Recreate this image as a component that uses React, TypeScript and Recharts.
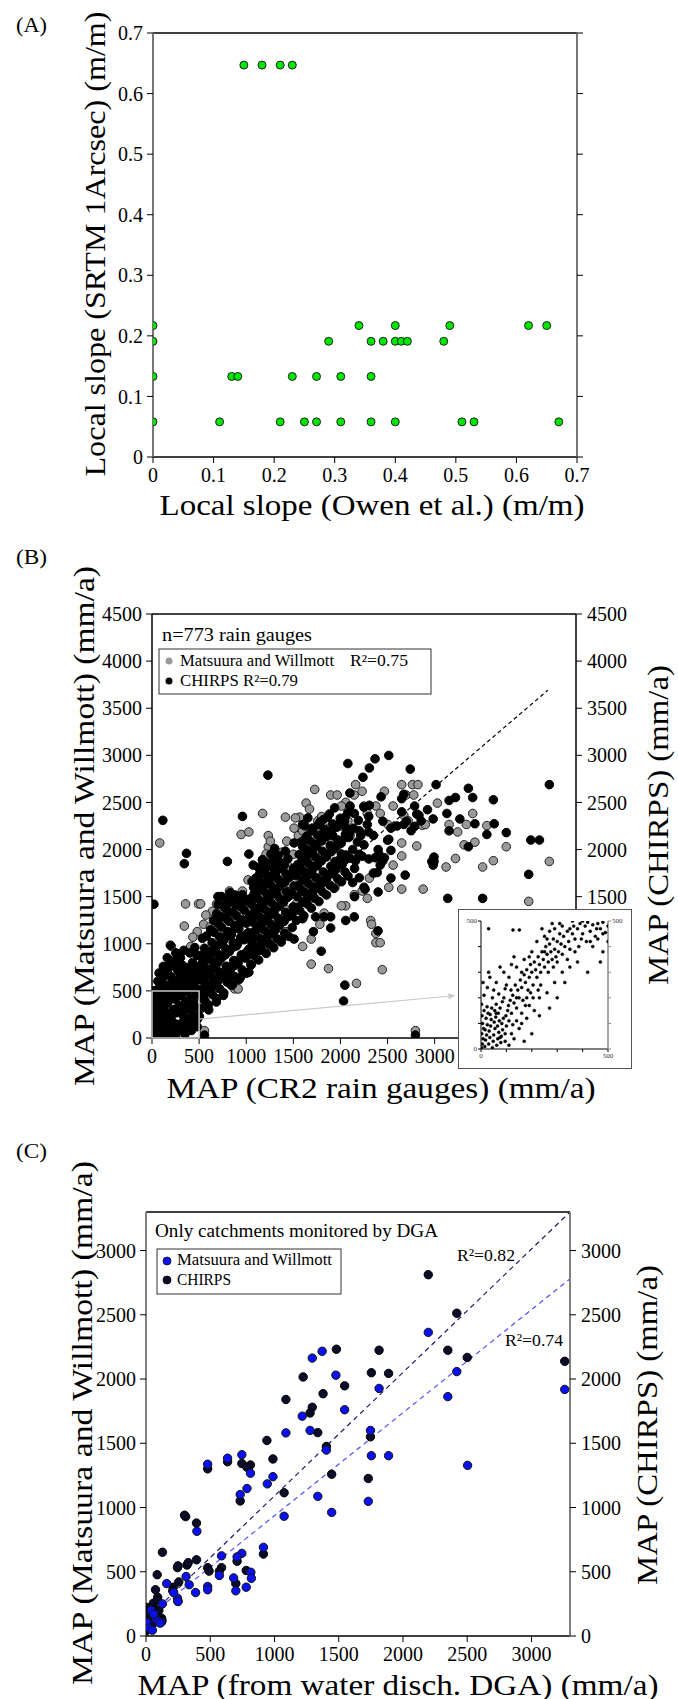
import React from 'react';
import { ScatterChart, Scatter, XAxis, YAxis, ReferenceLine, ReferenceArea, Customized } from 'recharts';

const FONT = "'Liberation Serif', 'DejaVu Serif', 'Times New Roman', serif";

// ---------------- Panel A ----------------
const slopeTicks = [0, 0.1, 0.2, 0.3, 0.4, 0.5, 0.6, 0.7];
const slopePoints: [number, number][] = [
  [0.15, 0.647], [0.18, 0.647], [0.21, 0.647], [0.23, 0.647],
  [0, 0.217], [0.34, 0.217], [0.40, 0.217], [0.49, 0.217], [0.62, 0.217], [0.65, 0.217],
  [0, 0.191], [0.29, 0.191], [0.36, 0.191], [0.38, 0.191], [0.40, 0.191], [0.41, 0.191], [0.42, 0.191], [0.48, 0.191],
  [0, 0.133], [0.13, 0.133], [0.14, 0.133], [0.23, 0.133], [0.27, 0.133], [0.31, 0.133], [0.36, 0.133],
  [0, 0.058], [0.11, 0.058], [0.21, 0.058], [0.25, 0.058], [0.27, 0.058], [0.31, 0.058], [0.36, 0.058], [0.40, 0.058], [0.51, 0.058], [0.53, 0.058], [0.67, 0.058],
];

// ---------------- Panel B ----------------
const mapTicksB = [0, 500, 1000, 1500, 2000, 2500, 3000, 3500, 4000, 4500];
const matsuuraB: [number, number][] = [
  [82, 2070], [1727, 2638], [4217, 1874], [3998, 1450], [3760, 2030], [3623, 1882], [3509, 1815], [3221, 1905],
  [3121, 1815], [3313, 2050], [3427, 2078], [3554, 2254], [3404, 2383], [3336, 2266], [3153, 2266], [3244, 2187],
  [3029, 2493], [2764, 2689], [2650, 2689], [2823, 2689], [2467, 2619], [2161, 2689], [2056, 2501], [1896, 2579],
  [1636, 2493], [1567, 2344], [1508, 2227], [1174, 2383], [946, 2160], [1234, 2148], [1430, 2089], [1690, 784],
  [2170, 580], [2321, 1247], [2376, 1011], [2444, 725], [2878, 1580], [2650, 1580], [2650, 1932], [2869, 2258],
  [2810, 2038], [2307, 1697], [2056, 1403], [356, 1423], [493, 1423], [516, 1423], [343, 1188], [402, 933],
  [877, 521], [1019, 1678], [1827, 1325], [2796, 78], [557, 78],
  [1028, 2187], [1234, 2030], [1257, 2089], [1211, 1952], [1325, 1913], [1380, 1972], [1416, 2344], [1522, 2336],
  [1553, 2148], [1622, 2101], [1672, 2430], [1759, 2305], [1873, 2227], [1965, 2579], [2010, 2462], [2079, 2305],
  [2102, 2148], [2147, 2579], [2230, 2619], [2248, 2462], [2285, 2383], [2376, 2462], [2422, 2383], [2504, 2266],
  [2559, 2462], [2673, 2364], [2696, 2579], [2719, 2305], [2778, 2579], [2901, 2266], [2650, 2070], [2559, 1835],
  [2513, 1599], [2285, 1482], [2230, 1560], [2147, 1521], [2010, 1403], [2330, 1207], [2376, 1109], [2422, 1011],
  [1873, 737], [1782, 1207], [1690, 1050], [1599, 972], [1416, 1129], [1279, 1050], [1234, 1129], [1142, 1168],
  [1051, 1247], [1005, 1325], [960, 1403], [868, 1442], [960, 1560], [822, 1560], [731, 1482], [685, 1423],
  [640, 1345], [571, 1305], [548, 1207], [480, 1129], [434, 1070], [411, 972], [274, 894], [206, 972],
  [196, 815], [146, 717], [91, 580], [9, 502], [23, 345], [914, 521], [1142, 1364], [1188, 1619],
  [1257, 1541], [1348, 1580], [1462, 1639], [1553, 1737], [1645, 1795], [1736, 1599], [1818, 1737], [1919, 1756],
  [1942, 1599], [1654, 1521], [1531, 1423], [1416, 1364], [700, 1100], [850, 1250], [1100, 1500], [1300, 1750],
  [1500, 1950], [1700, 2000], [1900, 2100], [2000, 2250], [1800, 2350], [1600, 2200], [100, 150], [250, 300], [400, 450],
  [1590, 1880], [1760, 1960], [1960, 2010], [1210, 1720], [1080, 1640], [1450, 1820], [780, 1290], [620, 1180],
];
const chirpsB: [number, number][] = [
  // scattered points
  [115, 2310], [366, 1960], [343, 1850], [20, 1420], [960, 2352], [1230, 2790], [1028, 1952], [1174, 1890],
  [800, 1874], [700, 1501], [535, 1058], [2079, 2913], [2307, 2866], [2367, 2963], [2513, 2999], [2741, 2854],
  [2239, 2767], [3015, 2689], [4217, 2689], [3358, 2650], [3221, 2552], [3404, 2552], [3623, 2528], [2673, 2587],
  [2431, 2560], [2307, 2470], [2810, 2376], [3130, 2383], [3267, 2325], [3427, 2274], [3632, 2274], [3554, 2160],
  [3760, 2180], [3153, 2199], [3358, 2030], [2993, 1920], [2993, 1874], [3998, 1737], [4020, 2101], [4112, 2101],
  [3139, 1482], [3509, 1482], [2047, 561], [2033, 392], [2796, 31], [557, 31], [2924, 2423], [2513, 2109],
  [2536, 1991], [2536, 1697], [2390, 1756], [2687, 1729], [2399, 1137], [2262, 1580], [1796, 921], [2147, 1286],
  [2056, 1247], [1896, 1286], [1736, 1286], [2102, 2462], [2147, 2383], [2138, 2227], [2216, 2148], [2285, 2266],
  [2298, 2187], [2367, 1913], [2408, 1952], [2467, 1913], [2422, 1835], [2536, 2227], [2787, 2462], [2673, 2266],
  [2650, 2540], [2833, 2364], [2856, 2305], [2787, 2246], [2970, 1874], [2984, 1835], [2984, 2325], [3153, 2521],
  [1942, 1874], [2010, 1952], [1919, 2148], [1805, 2168], [1782, 2266], [1654, 2336], [1704, 2207], [1599, 2266],
  [1622, 2109], [1508, 2070], [1416, 1984], [1325, 1874], [1302, 2011], [1371, 1835], [1142, 1737], [1074, 1835],
  [1165, 1599], [960, 1521], [868, 1482], [777, 1403], [1827, 1286], [1599, 1266], [1896, 1168], [1713, 1129],
  [1508, 1050], [1416, 1090], [1234, 1011], [1142, 933], [1051, 776], [1028, 698], [891, 815], [822, 658],
  [640, 580], [548, 404], [503, 227], [195, 985], [45, 470], [10, 300], [5, 160], [0, 80],
  // dense mass near origin
  [10, 20], [30, 60], [62, 18], [88, 72], [121, 33], [148, 92], [183, 41], [207, 114], [244, 58], [268, 143],
  [303, 79], [328, 172], [362, 118], [391, 203], [418, 149], [452, 238], [477, 193],
  [22, 118], [48, 172], [83, 137], [108, 213], [142, 176], [168, 262], [203, 228], [229, 303], [262, 268],
  [288, 342], [321, 307], [352, 383], [378, 348], [412, 423], [438, 392], [471, 462],
  [14, 233], [42, 287], [68, 262], [103, 328], [127, 302], [162, 368], [188, 404], [223, 437], [248, 412],
  [283, 478], [308, 452], [342, 517], [372, 498], [398, 563], [432, 527], [463, 602],
  [28, 383], [61, 418], [92, 468], [118, 443], [152, 508], [178, 563], [212, 527], [238, 603], [272, 568],
  [298, 643], [332, 607], [358, 683], [392, 648], [421, 722], [448, 688], [492, 758],
  [102, 588], [71, 523], [128, 652], [163, 718], [192, 783], [232, 818], [258, 742], [318, 776],
  [58, 332], [93, 388], [151, 447], [211, 482], [263, 538], [321, 561], [351, 602], [409, 641], [441, 563],
  [482, 652], [31, 502], [62, 603], [133, 562], [201, 652], [281, 703], [362, 748], [431, 802], [478, 878],
  [402, 902], [302, 852], [162, 852], [252, 903], [338, 930], [455, 960], [120, 760], [75, 690],
  [140, 10], [250, 20], [350, 40], [420, 80], [480, 120], [220, 170], [330, 240], [400, 300], [470, 330],
  // band 500-1000
  [518, 312], [563, 398], [598, 352], [641, 462], [683, 418], [718, 523], [762, 478], [798, 592], [842, 558],
  [878, 652], [922, 618], [958, 722], [1003, 688],
  [532, 428], [574, 483], [617, 512], [658, 563], [702, 608], [743, 642], [787, 688], [828, 733], [872, 768],
  [913, 812], [957, 858], [993, 903],
  [512, 518], [548, 603], [592, 558], [628, 652], [672, 617], [708, 703], [752, 668], [788, 762], [833, 728],
  [868, 823], [912, 788], [948, 882], [992, 848], [1028, 943],
  [527, 622], [568, 668], [612, 712], [653, 753], [697, 798], [733, 843], [778, 882], [822, 922], [858, 963],
  [907, 998], [943, 1052], [987, 1088],
  [502, 698], [543, 783], [578, 738], [622, 832], [658, 803], [703, 888], [738, 862], [782, 948], [818, 918],
  [862, 1012], [898, 978], [942, 1068], [978, 1043], [1022, 1118],
  [538, 822], [587, 858], [628, 912], [672, 948], [713, 993], [757, 1032], [798, 1083], [843, 1118], [883, 1167],
  [927, 1208], [963, 1247],
  [522, 878], [558, 953], [602, 918], [638, 1012], [683, 978], [718, 1072], [762, 1038], [798, 1132], [843, 1098],
  [878, 1192], [922, 1158], [958, 1252], [1003, 1218], [1038, 1302],
  [578, 1082], [622, 1148], [658, 1122], [703, 1212], [738, 1178], [782, 1272], [818, 1238], [862, 1332],
  [898, 1298], [942, 1392], [978, 1358], [1022, 1452],
  [652, 1248], [688, 1322], [732, 1288], [768, 1382], [812, 1348], [848, 1442], [892, 1408], [928, 1482], [972, 1458],
  [702, 1418], [738, 1502], [792, 1468], [828, 1542], [882, 1518],
  [602, 298], [683, 382], [758, 452], [852, 562], [938, 642],
  // band 1000-1500
  [1052, 778], [1088, 872], [1132, 828], [1168, 932], [1212, 898], [1248, 992], [1292, 958], [1328, 1052],
  [1372, 1018], [1408, 1112], [1452, 1078], [1488, 1172],
  [1042, 883], [1087, 922], [1128, 972], [1177, 1013], [1218, 1062], [1263, 1108], [1312, 1147], [1353, 1198],
  [1402, 1238], [1443, 1287], [1492, 1328],
  [1062, 1008], [1098, 1092], [1142, 1058], [1178, 1152], [1222, 1118], [1258, 1212], [1302, 1178], [1338, 1272],
  [1382, 1238], [1418, 1332], [1462, 1298], [1498, 1392],
  [1033, 1087], [1082, 1128], [1127, 1177], [1168, 1222], [1217, 1263], [1262, 1312], [1303, 1357], [1352, 1398],
  [1397, 1443], [1438, 1492], [1487, 1533],
  [1072, 1228], [1108, 1312], [1152, 1278], [1188, 1372], [1232, 1338], [1268, 1432], [1312, 1398], [1348, 1492],
  [1392, 1458], [1428, 1552], [1472, 1518], [1508, 1612],
  [1047, 1293], [1088, 1342], [1137, 1383], [1178, 1432], [1227, 1473], [1268, 1522], [1317, 1563], [1358, 1612],
  [1407, 1653], [1448, 1702], [1497, 1743],
  [1058, 1418], [1102, 1502], [1138, 1468], [1182, 1562], [1218, 1528], [1262, 1622], [1298, 1588], [1342, 1682],
  [1378, 1648], [1422, 1742], [1458, 1708], [1502, 1802],
  [1042, 1478], [1083, 1527], [1132, 1568], [1173, 1617], [1222, 1658], [1263, 1707], [1312, 1748], [1353, 1797],
  [1402, 1838],
  [1078, 1598], [1122, 1682], [1158, 1648], [1202, 1742], [1238, 1708], [1282, 1802], [1318, 1768], [1362, 1862],
  [1398, 1828], [1442, 1902], [1128, 1812], [1172, 1892], [1218, 1858], [1262, 1952],
  [1062, 1662], [1102, 1698], [1148, 1752], [1192, 1788], [1242, 1842], [1288, 1892], [1338, 1938],
  // band 1500-2100
  [1532, 1248], [1568, 1352], [1612, 1298], [1648, 1422], [1692, 1378], [1728, 1482], [1772, 1448], [1808, 1552],
  [1852, 1518], [1888, 1622], [1932, 1588], [1968, 1692], [2012, 1658], [2048, 1762],
  [1552, 1388], [1602, 1443], [1648, 1487], [1703, 1538], [1748, 1592], [1802, 1638], [1853, 1692], [1898, 1742],
  [1952, 1788], [2003, 1843], [2048, 1888],
  [1542, 1502], [1578, 1582], [1622, 1548], [1658, 1642], [1702, 1608], [1738, 1702], [1782, 1668], [1818, 1762],
  [1862, 1728], [1898, 1822], [1942, 1788], [1978, 1882], [2022, 1848], [2058, 1942], [2102, 1908],
  [1553, 1622], [1602, 1677], [1652, 1728], [1698, 1772], [1753, 1827], [1798, 1878], [1852, 1922], [1903, 1977],
  [1948, 2028], [2002, 2072], [2053, 2128], [2098, 2177],
  [1528, 1722], [1572, 1802], [1608, 1768], [1652, 1862], [1688, 1828], [1732, 1922], [1768, 1888], [1812, 1982],
  [1848, 1948], [1892, 2042], [1928, 2008], [1972, 2102], [2008, 2068], [2052, 2162], [2088, 2128],
  [1548, 1842], [1603, 1888], [1653, 1943], [1702, 1992], [1748, 2038], [1803, 2092], [1852, 2138], [1898, 2193],
  [1953, 2242], [2002, 2288], [2048, 2343],
  [1562, 1948], [1598, 2032], [1642, 1998], [1678, 2092], [1722, 2058], [1758, 2152], [1802, 2118], [1838, 2212],
  [1882, 2178], [1918, 2272], [1962, 2238], [1998, 2332], [2042, 2298], [2078, 2392],
  [1582, 2078], [1642, 2143], [1698, 2198], [1763, 2262], [1818, 2318], [1883, 2378], [1938, 2442],
  [1622, 2252], [1702, 2228], [1782, 2292], [1862, 2342],
  [2150, 1800], [2200, 1950], [2250, 2050], [2300, 1900], [2350, 2150], [2200, 2200], [2300, 2350], [2400, 2000],
  [2450, 1880], [2500, 2100], [2600, 2250], [2650, 2400], [2700, 2300], [2750, 2200], [2200, 1700], [2150, 1500],
  [2250, 1600], [2350, 1750], [2400, 1550], [2100, 2600], [2250, 2450], [2450, 2300],
  [2130, 2000], [2180, 2080], [2160, 1880], [2230, 1930], [2080, 1720], [2130, 1650], [2060, 2230], [2190, 2310],
];
const insetTicks = [0, 100, 200, 300, 400, 500];
const insetPoints: [number, number][] = [
  [2, 5], [5, 20], [8, 40], [3, 60], [10, 80], [6, 100], [4, 130], [12, 150], [2, 175], [15, 10], [18, 35], [22, 55],
  [16, 75], [25, 95], [20, 120], [28, 140], [24, 165], [30, 20], [35, 45], [32, 70], [38, 90], [40, 115], [36, 135],
  [42, 160], [45, 5], [48, 30], [50, 55], [55, 80], [52, 105], [58, 125], [54, 150], [60, 175], [62, 15], [66, 40],
  [70, 65], [65, 90], [72, 110], [68, 140], [75, 160], [78, 25], [80, 50], [85, 75], [82, 100], [88, 120], [84, 185],
  [90, 200], [95, 60], [100, 90], [98, 130], [105, 150], [110, 110], [108, 170], [115, 190], [120, 140], [125, 210],
  [118, 230], [130, 180], [135, 250], [140, 160], [145, 230], [150, 200], [155, 270], [160, 240], [165, 190],
  [170, 290], [175, 260], [180, 310], [185, 230], [190, 280], [195, 330], [200, 300], [205, 250], [210, 340],
  [215, 310], [220, 280], [225, 360], [230, 330], [235, 300], [240, 380], [245, 350], [250, 320], [255, 400],
  [260, 370], [265, 340], [270, 410], [275, 380], [280, 350], [285, 430], [290, 390], [295, 360], [300, 420],
  [305, 380], [310, 450], [315, 410], [320, 370], [325, 440], [330, 400], [340, 460], [345, 420], [350, 390],
  [360, 450], [365, 480], [370, 430], [380, 470], [385, 400], [390, 490], [400, 450], [410, 480], [415, 420],
  [420, 495], [430, 460], [440, 485], [450, 440], [460, 490], [470, 470], [480, 495], [490, 455], [500, 480],
  [30, 470], [126, 465], [151, 465], [30, 300], [60, 260], [90, 300], [50, 230], [140, 320], [100, 250], [120, 330],
  [170, 350], [200, 380], [180, 200], [230, 200], [260, 220], [210, 150], [290, 260], [320, 300], [330, 260],
  [350, 320], [380, 340], [440, 400], [470, 340], [420, 300], [300, 200], [270, 160], [230, 130], [200, 60],
  [150, 80], [130, 40], [180, 120], [250, 380], [310, 490], [270, 460], [240, 470], [360, 500], [400, 500], [280, 490],
  [12, 210], [8, 260], [25, 240], [45, 200], [70, 215], [95, 235], [35, 280], [75, 320], [110, 280], [160, 300],
  [130, 360], [190, 360], [220, 420], [260, 430], [300, 340], [340, 350], [370, 380], [395, 430], [430, 420],
  [460, 430], [480, 450], [500, 420], [480, 380], [455, 470], [350, 470], [320, 480], [290, 470], [250, 440],
  [140, 110], [160, 140], [190, 170], [120, 60], [95, 30], [110, 15], [170, 30], [60, 140], [75, 45], [140, 200],
  [195, 220], [235, 250], [265, 300], [285, 320], [225, 230], [175, 170], [205, 200], [160, 100], [125, 95],
];
const fitLineB = [{ x: 0, y: 100 }, { x: 4200, y: 3690 }];
const zoomArrowB = [{ x: 500, y: 200 }, { x: 3220, y: 450 }];

// ---------------- Panel C ----------------
const mapTicksC = [0, 500, 1000, 1500, 2000, 2500, 3000];
const matsuuraC: [number, number][] = [
  [3259, 1919], [2503, 1328], [2349, 1863], [2419, 2058], [2197, 2363], [1888, 1403], [1814, 1927], [1754, 1403],
  [1747, 1600], [1730, 1048], [1546, 1761], [1478, 2030], [1445, 962], [1404, 1447], [1337, 1087], [1371, 2216],
  [1294, 2163], [1277, 1600], [1216, 1711], [1089, 1581], [1075, 932], [988, 1240], [944, 1184], [813, 1267],
  [786, 1148], [733, 1101], [746, 1411], [635, 1384], [480, 1337], [396, 815], [914, 690], [816, 496], [746, 643],
  [709, 616], [820, 449], [780, 380], [682, 452], [699, 352], [588, 624], [571, 471], [480, 385], [480, 360],
  [336, 399], [386, 338], [312, 463], [245, 294], [249, 269], [161, 408], [128, 250], [121, 108], [215, 338],
  [40, 200], [7, 103], [74, 130], [24, 61], [91, 117], [60, 170], [110, 100], [50, 45],
];
const chirpsC: [number, number][] = [
  [2197, 2812], [2419, 2512], [2349, 2224], [2500, 2168], [3259, 2138], [1482, 2232], [1814, 2224], [1754, 2049],
  [1888, 2044], [1223, 2016], [1546, 1947], [1378, 1886], [1089, 1841], [1294, 1780], [1277, 1736], [1337, 1583],
  [941, 1522], [1404, 1475], [1747, 1550], [988, 1378], [635, 1356], [746, 1342], [813, 1331], [786, 1314],
  [480, 1301], [1445, 1259], [1730, 1226], [1075, 1115], [733, 1051], [309, 929], [300, 940], [393, 879],
  [914, 638], [128, 652], [87, 477], [393, 593], [319, 552], [329, 571], [245, 532], [249, 546], [480, 532],
  [491, 505], [588, 532], [571, 505], [709, 582], [699, 408], [780, 510], [255, 421], [212, 380], [208, 352],
  [249, 269], [74, 360], [91, 302], [57, 255], [7, 222], [24, 186], [121, 139], [74, 205], [40, 89], [0, 39],
  [24, 111], [10, 170], [30, 215], [90, 280], [60, 100], [15, 60], [45, 140], [100, 200], [125, 120],
];
const fitChirpsC = [{ x: 0, y: 130 }, { x: 3300, y: 3300 }];
const fitMatsuuraC = [{ x: 0, y: 135 }, { x: 3300, y: 2780 }];

const toXY = (arr: [number, number][]) => arr.map(([x, y]) => ({ x, y }));

const dot = (r: number, fill: string, stroke: string, sw = 1) => (p: any) =>
  p.cx == null ? <g /> : <circle cx={p.cx} cy={p.cy} r={r} fill={fill} stroke={stroke} strokeWidth={sw} />;

// arrow drawn from the reference line's own endpoints
const arrowShape = (p: any) => {
  const { x1, y1, x2, y2 } = p;
  if ([x1, y1, x2, y2].some((v: any) => v == null || Number.isNaN(v))) return <g />;
  const ang = Math.atan2(y2 - y1, x2 - x1);
  const L = 7, W = 3;
  const bx = x2 - L * Math.cos(ang), by = y2 - L * Math.sin(ang);
  const px = -Math.sin(ang) * W, py = Math.cos(ang) * W;
  return (
    <g>
      <line x1={x1} y1={y1} x2={bx} y2={by} stroke="#c8c8c8" strokeWidth={1.2} />
      <polygon points={`${x2},${y2} ${bx + px},${by + py} ${bx - px},${by - py}`} fill="#c8c8c8" />
    </g>
  );
};

const tickStyle = { fontFamily: FONT, fontSize: 20, fill: '#000' };
const blank = () => '';
const bottomTickB = (v: number) => (v >= 3500 ? '' : String(v));
const rightTickB = (v: number) => (v <= 1000 ? '' : String(v));

type TProps = { x: number; y: number; size: number; len?: number; rot?: boolean; anchor?: 'start' | 'middle' | 'end'; children: React.ReactNode; fill?: string };
const T = ({ x, y, size, len, rot, anchor = 'middle', children, fill = '#000' }: TProps) => (
  <text
    x={x}
    y={y}
    fontSize={size}
    fontFamily={FONT}
    style={{ fontFamily: FONT }}
    fill={fill}
    textAnchor={anchor}
    textLength={len}
    lengthAdjust={len ? 'spacingAndGlyphs' : undefined}
    transform={rot ? `rotate(-90 ${x} ${y})` : undefined}
  >
    {children}
  </text>
);

const OverlayA = () => (
  <g>
    <T x={16} y={32} size={21} len={31} anchor="start">(A)</T>
    <T x={105} y={244} size={30} len={465} rot>Local slope (SRTM 1Arcsec) (m/m)</T>
    <T x={372} y={515} size={30} len={425}>Local slope (Owen et al.) (m/m)</T>
  </g>
);

const OverlayB = () => (
  <g>
    <T x={16} y={24} size={21} len={31} anchor="start">(B)</T>
    <T x={94} y={286} size={30} len={520} rot>MAP (Matsuura and Willmott) (mm/a)</T>
    <T x={668} y={285} size={30} len={320} rot>MAP (CHIRPS) (mm/a)</T>
    <T x={381} y={558} size={30} len={429}>MAP (CR2 rain gauges) (mm/a)</T>
    <T x={162} y={101} size={18} len={150} anchor="start">n=773 rain gauges</T>
    <rect x={159} y={109} width={272} height={45} fill="#fff" stroke="#333" strokeWidth={1} />
    <circle cx={169} cy={121} r={3.5} fill="#999" />
    <T x={180} y={126} size={16} len={154} anchor="start">Matsuura and Willmott</T>
    <T x={350} y={126} size={16} len={58} anchor="start">R²=0.75</T>
    <circle cx={169} cy={141} r={3.5} fill="#000" />
    <T x={180} y={146} size={16} len={118} anchor="start">CHIRPS R²=0.79</T>
  </g>
);

const OverlayC = () => (
  <g>
    <T x={16} y={38} size={21} len={31} anchor="start">(C)</T>
    <T x={92} y={303} size={30} len={524} rot>MAP (Matsuura and Willmott) (mm/a)</T>
    <T x={657} y={305} size={30} len={320} rot>MAP (CHIRPS) (mm/a)</T>
    <T x={398} y={575} size={30} len={521}>MAP (from water disch. DGA) (mm/a)</T>
    <T x={155} y={117} size={18} len={283} anchor="start">Only catchments monitored by DGA</T>
    <rect x={157} y={129} width={184} height={45} fill="#fff" stroke="#333" strokeWidth={1} />
    <circle cx={167} cy={141} r={4} fill="#0a10f0" stroke="#111" strokeWidth={0.8} />
    <T x={177} y={145} size={16} len={155} anchor="start">Matsuura and Willmott</T>
    <circle cx={167} cy={160} r={4} fill="#0b0b2a" stroke="#000" strokeWidth={0.8} />
    <T x={177} y={165} size={16} len={54} anchor="start">CHIRPS</T>
    <T x={457} y={141} size={17} len={58} anchor="start">R²=0.82</T>
    <T x={505} y={226} size={17} len={58} anchor="start">R²=0.74</T>
  </g>
);

const InsetOverlay = () => (
  <rect x={0.5} y={0.5} width={173} height={159} fill="none" stroke="#555" strokeWidth={1} />
);

const insetTick = { fontFamily: FONT, fontSize: 7, fill: '#333' };

export default function App() {
  const dA = toXY(slopePoints);
  return (
    <div style={{ position: 'absolute', left: 0, top: 0, width: 678, height: 1699, background: '#fff', fontFamily: FONT }}>
      {/* Panel A */}
      <div style={{ position: 'absolute', left: 0, top: 0 }}>
        <ScatterChart width={678} height={540} margin={{ top: 23, right: 41, bottom: 43, left: 93 }}>
          <XAxis xAxisId="b" dataKey="x" type="number" domain={[0, 0.7]} ticks={slopeTicks} height={40} tickSize={6} tickMargin={5}
            axisLine={{ stroke: '#000', strokeWidth: 1.5 }} tickLine={{ stroke: '#000' }} tick={tickStyle} allowDataOverflow interval={0} />
          <XAxis xAxisId="t" orientation="top" type="number" domain={[0, 0.7]} ticks={slopeTicks} height={10} tickSize={6}
            tickFormatter={blank} axisLine={{ stroke: '#000', strokeWidth: 1.5 }} tickLine={{ stroke: '#000' }} allowDataOverflow interval={0} />
          <YAxis yAxisId="l" dataKey="y" type="number" domain={[0, 0.7]} ticks={slopeTicks} width={60} tickSize={6} tickMargin={4}
            axisLine={{ stroke: '#777', strokeWidth: 2 }} tickLine={{ stroke: '#000' }} tick={tickStyle} allowDataOverflow interval={0} />
          <YAxis yAxisId="r" orientation="right" type="number" domain={[0, 0.7]} ticks={slopeTicks} width={60} tickSize={6}
            tickFormatter={blank} axisLine={{ stroke: '#777', strokeWidth: 2 }} tickLine={{ stroke: '#000' }} allowDataOverflow interval={0} />
          <Scatter xAxisId="b" yAxisId="l" data={dA} isAnimationActive={false} shape={dot(4, '#00e600', '#222', 1)} />
          <Customized component={OverlayA} />
        </ScatterChart>
      </div>

      {/* Panel B */}
      <div style={{ position: 'absolute', left: 0, top: 540 }}>
        <ScatterChart width={678} height={580} margin={{ top: 64, right: 42, bottom: 42, left: 92 }}>
          <XAxis xAxisId="b" dataKey="x" type="number" domain={[0, 4500]} ticks={mapTicksB} height={40} tickSize={6} tickMargin={5}
            axisLine={{ stroke: '#000', strokeWidth: 1.5 }} tickLine={{ stroke: '#000' }} tick={tickStyle} tickFormatter={bottomTickB} allowDataOverflow interval={0} />
          <XAxis xAxisId="t" orientation="top" type="number" domain={[0, 4500]} ticks={mapTicksB} height={10} tickSize={6}
            tickFormatter={blank} axisLine={{ stroke: '#000', strokeWidth: 1.5 }} tickLine={{ stroke: '#000' }} allowDataOverflow interval={0} />
          <YAxis yAxisId="l" dataKey="y" type="number" domain={[0, 4500]} ticks={mapTicksB} width={60} tickSize={6} tickMargin={4}
            axisLine={{ stroke: '#000', strokeWidth: 1.5 }} tickLine={{ stroke: '#000' }} tick={tickStyle} allowDataOverflow interval={0} />
          <YAxis yAxisId="r" orientation="right" type="number" domain={[0, 4500]} ticks={mapTicksB} width={60} tickSize={6} tickMargin={5}
            axisLine={{ stroke: '#000', strokeWidth: 1.5 }} tickLine={{ stroke: '#000' }} tick={tickStyle} tickFormatter={rightTickB} allowDataOverflow interval={0} />
          <ReferenceLine xAxisId="b" yAxisId="l" segment={fitLineB} stroke="#000" strokeWidth={1.2} strokeDasharray="4 3" ifOverflow="visible" />
          <Scatter xAxisId="b" yAxisId="l" data={toXY(matsuuraB)} isAnimationActive={false} shape={dot(4.3, '#999', '#222', 1)} />
          <Scatter xAxisId="b" yAxisId="l" data={toXY(chirpsB)} isAnimationActive={false} shape={dot(4.3, '#000', '#000', 1)} />
          <ReferenceArea xAxisId="b" yAxisId="l" x1={0} x2={500} y1={0} y2={500} fill="none" fillOpacity={0} stroke="#c4c4c4" strokeWidth={1.5} ifOverflow="visible" zIndex={1000} />
          <ReferenceLine xAxisId="b" yAxisId="l" segment={zoomArrowB} stroke="#c8c8c8" strokeWidth={1.2} ifOverflow="visible" zIndex={1000} shape={arrowShape} />
          <Customized component={OverlayB} />
        </ScatterChart>
        {/* Inset */}
        <div style={{ position: 'absolute', left: 458, top: 369, width: 174, height: 160, background: '#fff' }}>
          <ScatterChart width={174} height={160} margin={{ top: 12, right: 4, bottom: 6, left: 3 }}>
            <XAxis xAxisId="b" dataKey="x" type="number" domain={[0, 500]} ticks={insetTicks} height={14} tickSize={3} tickMargin={1}
              axisLine={{ stroke: '#000', strokeWidth: 1 }} tickLine={{ stroke: '#000' }} tick={insetTick}
              tickFormatter={(v: number) => (v === 0 || v === 500 ? String(v) : '')} allowDataOverflow interval={0} />
            <XAxis xAxisId="t" orientation="top" type="number" domain={[0, 500]} ticks={insetTicks} height={0} tickSize={0}
              tickFormatter={blank} axisLine={{ stroke: '#000', strokeWidth: 1 }} tickLine={false} allowDataOverflow interval={0} />
            <YAxis yAxisId="l" dataKey="y" type="number" domain={[0, 500]} ticks={insetTicks} width={20} tickSize={3} tickMargin={1}
              axisLine={{ stroke: '#000', strokeWidth: 1 }} tickLine={{ stroke: '#000' }} tick={insetTick}
              tickFormatter={(v: number) => (v === 0 || v === 500 ? String(v) : '')} allowDataOverflow interval={0} />
            <YAxis yAxisId="r" orientation="right" type="number" domain={[0, 500]} ticks={insetTicks} width={20} tickSize={3} tickMargin={1}
              axisLine={{ stroke: '#888', strokeWidth: 1.5 }} tickLine={{ stroke: '#888' }} tick={insetTick}
              tickFormatter={(v: number) => (v === 500 ? String(v) : '')} allowDataOverflow interval={0} />
            <Scatter xAxisId="b" yAxisId="l" data={toXY(insetPoints)} isAnimationActive={false} shape={dot(1.5, '#000', '#000', 0.5)} />
            <Customized component={InsetOverlay} />
          </ScatterChart>
        </div>
      </div>

      {/* Panel C */}
      <div style={{ position: 'absolute', left: 0, top: 1120 }}>
        <ScatterChart width={678} height={579} margin={{ top: 82, right: 48, bottom: 23, left: 86 }}>
          <XAxis xAxisId="b" dataKey="x" type="number" domain={[0, 3300]} ticks={mapTicksC} height={40} tickSize={6} tickMargin={5}
            axisLine={{ stroke: '#000', strokeWidth: 1.5 }} tickLine={{ stroke: '#000' }} tick={tickStyle} allowDataOverflow interval={0} />
          <XAxis xAxisId="t" orientation="top" type="number" domain={[0, 3300]} ticks={mapTicksC} height={10} tickSize={6}
            tickFormatter={blank} axisLine={{ stroke: '#000', strokeWidth: 1.5 }} tickLine={{ stroke: '#000' }} allowDataOverflow interval={0} />
          <YAxis yAxisId="l" dataKey="y" type="number" domain={[0, 3300]} ticks={mapTicksC} width={60} tickSize={6} tickMargin={4}
            axisLine={{ stroke: '#808080', strokeWidth: 2 }} tickLine={{ stroke: '#000' }} tick={tickStyle} allowDataOverflow interval={0} />
          <YAxis yAxisId="r" orientation="right" type="number" domain={[0, 3300]} ticks={mapTicksC} width={60} tickSize={6} tickMargin={5}
            axisLine={{ stroke: '#808080', strokeWidth: 2 }} tickLine={{ stroke: '#000' }} tick={tickStyle} allowDataOverflow interval={0} />
          <ReferenceLine xAxisId="b" yAxisId="l" segment={fitChirpsC} stroke="#1c1c70" strokeWidth={1.2} strokeDasharray="5 4" ifOverflow="visible" />
          <ReferenceLine xAxisId="b" yAxisId="l" segment={fitMatsuuraC} stroke="#5050ff" strokeWidth={1.2} strokeDasharray="5 4" ifOverflow="visible" />
          <Scatter xAxisId="b" yAxisId="l" data={toXY(chirpsC)} isAnimationActive={false} shape={dot(4.2, '#0b0b2a', '#000', 1)} />
          <Scatter xAxisId="b" yAxisId="l" data={toXY(matsuuraC)} isAnimationActive={false} shape={dot(4.2, '#0a10f0', '#111', 1)} />
          <Customized component={OverlayC} />
        </ScatterChart>
      </div>
    </div>
  );
}
